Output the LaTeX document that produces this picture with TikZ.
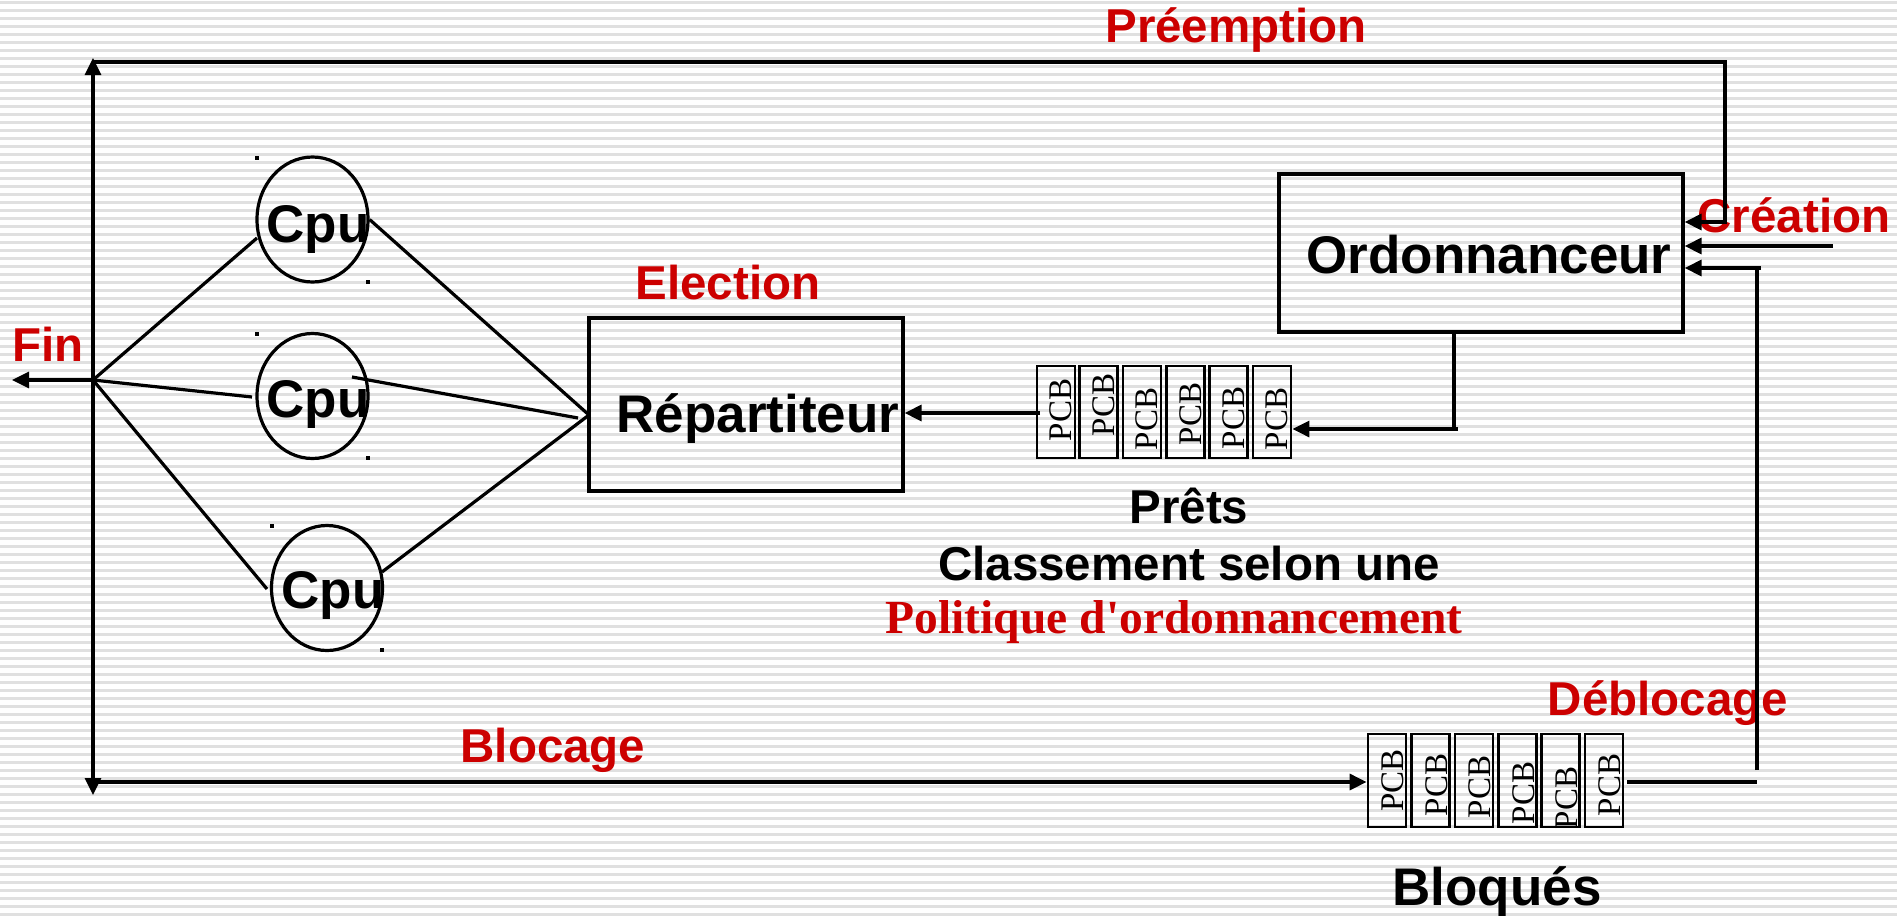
\documentclass[tikz,border=0pt]{standalone}
\usepackage{fontspec}
\setmainfont{Liberation Sans}
\newfontfamily\serifface{Liberation Serif}
\usetikzlibrary{arrows.meta,shapes.geometric}
\definecolor{labred}{RGB}{204,0,0}
\definecolor{stripe}{RGB}{224,224,224}
\tikzset{
  wire/.style={line width=3.2pt},
  arr/.style={wire,-{Triangle[length=17pt,width=16pt]}},
  boxed/.style={draw,line width=3.2pt,rectangle,inner sep=0pt},
  pcbbox/.style={draw,line width=2.8pt,rectangle,inner sep=0pt,minimum width=38pt,minimum height=92pt},
  pcbtext/.style={rotate=90,font=\serifface\fontsize{33}{36}\selectfont,inner sep=0pt},
  cpuring/.style={draw,ellipse,line width=3.2pt,minimum width=111pt,minimum height=125pt,inner sep=0pt},
  big/.style={font=\bfseries\fontsize{53}{60}\selectfont,inner sep=0pt,anchor=base},
  redlab/.style={font=\bfseries\fontsize{47.5}{54}\selectfont,text=labred,inner sep=0pt,anchor=base},
  blacklab/.style={font=\bfseries\fontsize{47.5}{54}\selectfont,inner sep=0pt,anchor=base},
  speck/.style={fill=black,minimum size=3.5pt,inner sep=0pt,rectangle}
}
\begin{document}
\begin{tikzpicture}[x=1pt,y=-1pt]
% striped page background
\fill[white] (0,0) rectangle (1897,921);
\useasboundingbox (0,0) rectangle (1897,921);
\foreach \k in {0,...,114}
  \draw[stripe,line width=2.5pt] (0,2.7+8*\k) -- (1897,2.7+8*\k);

% boxes
\node[boxed,minimum width=404pt,minimum height=158pt] (ordo) at (1481,253) {};
\node[boxed,minimum width=314pt,minimum height=173pt] (rep) at (746,404.5) {};

% processors
\node[cpuring] (cpu1) at (312.5,219.5) {};
\node[cpuring] (cpu2) at (312.5,396) {};
\node[cpuring] (cpu3) at (327,588) {};
\node[speck] (s1) at (257,158) {};
\node[speck] (s2) at (368,282) {};
\node[speck] (s3) at (257,334) {};
\node[speck] (s4) at (368,458) {};
\node[speck] (s5) at (272,526) {};
\node[speck] (s6) at (382,650) {};

% ready queue and blocked queue
\foreach \i/\x/\dy in {1/1056/-2,2/1098.5/-7,3/1142/7,4/1185.5/2,5/1228.5/6,6/1272/7}{
  \node[pcbbox] (r\i) at (\x,412) {};
  \node[pcbtext] (rt\i) at (\x+5,412+\dy) {PCB};
}
\foreach \i/\x/\dy in {1/1387/0,2/1430.5/4.5,3/1474/6.5,4/1517.5/12.5,5/1560.5/17.5,6/1604/4.5}{
  \node[pcbbox,minimum height=93pt] (b\i) at (\x,780.5) {};
  \node[pcbtext] (bt\i) at (\x+6,780.5+\dy) {PCB};
}

% texts
\node[big] (tordo) at (1489,273) {Ordonnanceur};
\node[big] (trep) at (758,432) {Répartiteur};
\node[big] (tc1) at (318,242) {Cpu};
\node[big] (tc2) at (318,417) {Cpu};
\node[big] (tc3) at (333,608) {Cpu};
\node[big] (tblq) at (1497,905) {Bloqués};
\node[redlab] (lpre) at (1236,42) {Préemption};
\node[redlab] (lcre) at (1794,232) {Création};
\node[redlab] (lele) at (728,299) {Election};
\node[redlab] (lfin) at (48,361) {Fin};
\node[redlab] (ldeb) at (1668,715) {Déblocage};
\node[redlab] (lblo) at (553,762) {Blocage};
\node[blacklab] (lpret) at (1189,523) {Prêts};
\node[blacklab] (lcls) at (1189,580) {Classement selon une};
\node[inner sep=0pt,anchor=base,text=labred,font=\serifface\bfseries\fontsize{47.5}{54}\selectfont] (lpol) at (1174,633) {Politique d'ordonnancement};

% junction and bend points
\coordinate (hub) at (93,380);
\coordinate (upend) at (93,58);
\coordinate (downend) at (93,795);
\coordinate (finend) at (12,380);
\coordinate (topL) at (93,62);
\coordinate (topR) at (1725,62);
\coordinate (preIn) at (1725,222);
\coordinate (c1a) at (257,238);
\coordinate (c2a) at (252,397);
\coordinate (c3a) at (267,589);
\coordinate (c2b) at (352,377);
\coordinate (c3b) at (382,572);
\coordinate (rin) at (589,415);
\coordinate (c2end) at (578,418);
\coordinate (crea) at (1833,246);
\coordinate (odrop) at (1454,332);
\coordinate (oturn) at (1454,429);
\coordinate (qout) at (1040,413);
\coordinate (blkstart) at (93,782);
\coordinate (dbA) at (1627,782);
\coordinate (dbB) at (1757,782);
\coordinate (dbC) at (1757,770);
\coordinate (dbD) at (1757,266);
\coordinate (dbE) at (1761,268);

% fan of processors
\draw[wire] (hub) -- (c1a);
\draw[wire] (hub) -- (c2a);
\draw[wire] (hub) -- (c3a);
\draw[wire] (cpu1.east) -- (rin);
\draw[wire] (c2b) -- (c2end);
\draw[wire] (c3b) -- (rin);

% outgoing transitions
\draw[arr] (hub) -- (upend);
\draw[arr] (hub) -- (downend);
\draw[arr] (hub) -- (finend);
\draw[arr] (topL) -- (topR) -- (preIn) -- (preIn -| ordo.east);
\draw[arr] (blkstart) -- (blkstart -| b1.west);

% scheduler, ready queue, dispatcher
\draw[arr] (crea) -- (crea -| ordo.east);
\draw[wire] (odrop) -- (oturn);
\draw[arr] ([xshift=4pt]oturn) -- (oturn -| r6.east);
\draw[arr] (qout) -- (qout -| rep.east);

% unblocking
\draw[wire] (dbA) -- (dbB);
\draw[wire] (dbC) -- (dbD);
\draw[arr] (dbE) -- (dbE -| ordo.east);
\end{tikzpicture}
\end{document}
